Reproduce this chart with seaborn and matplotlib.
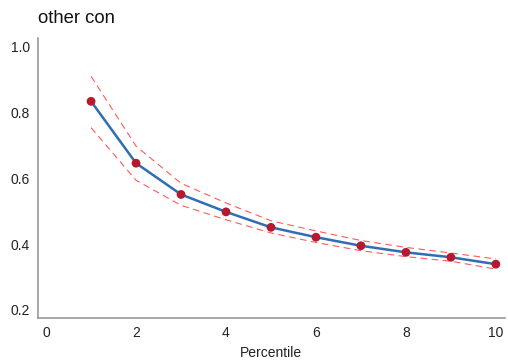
import matplotlib
matplotlib.use("Agg")
import matplotlib.pyplot as plt
import seaborn as sns
import pandas as pd

percentile = [1, 2, 3, 4, 5, 6, 7, 8, 9, 10]
estimate = [0.834, 0.646, 0.551, 0.498, 0.451, 0.421, 0.395, 0.375, 0.360, 0.339]
upper = [0.910, 0.698, 0.585, 0.525, 0.471, 0.440, 0.411, 0.390, 0.373, 0.355]
lower = [0.754, 0.594, 0.518, 0.474, 0.434, 0.405, 0.380, 0.362, 0.348, 0.324]

df = pd.DataFrame({"Percentile": percentile, "est": estimate, "up": upper, "lo": lower})

sns.set_theme(style="white")
plt.rcParams['font.family'] = ['Liberation Sans', 'DejaVu Sans']

fig = plt.figure(figsize=(5.08, 3.64), dpi=100)
ax = fig.add_axes([0.0748, 0.126, 0.919, 0.770])

sns.lineplot(data=df, x="Percentile", y="up", ax=ax, color="#ff5a5a", lw=0.8)
sns.lineplot(data=df, x="Percentile", y="lo", ax=ax, color="#ff5a5a", lw=0.8)
for l in ax.lines:
    l.set_dashes((6, 4))
sns.lineplot(data=df, x="Percentile", y="est", ax=ax, color="#2f6db4", lw=1.8)
sns.scatterplot(data=df, x="Percentile", y="est", ax=ax, color="#b5192d", s=40, edgecolor="none", zorder=5)

ax.set_xlim(-0.18, 10.2)
ax.set_ylim(0.175, 1.027)
ax.set_xticks([0, 2, 4, 6, 8, 10])
ax.set_yticks([0.2, 0.4, 0.6, 0.8, 1.0])
ax.set_yticklabels(["0.2", "0.4", "0.6", "0.8", "1.0"])
ax.tick_params(labelsize=10, colors="#222222", length=0, pad=6)
ax.set_xlabel("Percentile", fontsize=10, color="#222222", labelpad=4)
ax.set_ylabel("")
for s in ["top", "right"]:
    ax.spines[s].set_visible(False)
for s in ["left", "bottom"]:
    ax.spines[s].set_color("#999999")
    ax.spines[s].set_linewidth(1.2)
fig.text(0.0748, 0.937, "other con", fontsize=13.3, color="#111111", va="baseline")

fig.savefig("out.png", dpi=100)
